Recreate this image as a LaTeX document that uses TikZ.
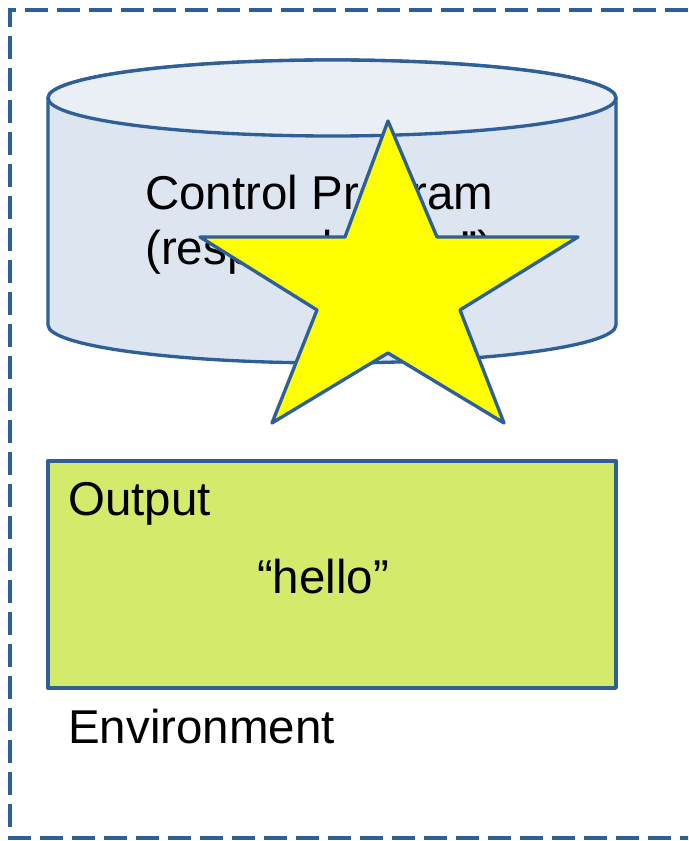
\documentclass[tikz,border=0pt]{standalone}
\usepackage{fontspec}
\setmainfont{Liberation Sans}
\definecolor{edge}{RGB}{46,95,153}
\definecolor{cylbody}{RGB}{221,230,240}
\definecolor{cyltop}{RGB}{234,239,245}
\definecolor{outgreen}{RGB}{212,234,107}
\definecolor{staryellow}{RGB}{255,255,0}
\tikzset{
  px/.style={x=0.75pt,y=-0.75pt},
  outline/.style={draw=edge,line width=2.5pt,line join=round},
  envline/.style={draw=edge,line width=2.4pt,dash pattern=on 17pt off 7pt},
  label/.style={inner sep=0pt,anchor=base west,font=\fontsize{35.6}{41.25}\selectfont,align=left},
}
\begin{document}
\begin{tikzpicture}[px]
\useasboundingbox (0,0) rectangle (688,841);
\begin{scope}
\clip (0,0) rectangle (688,841);
% environment dashed border
\draw[envline] (720,10) -- (10,10) -- (10,838) -- (720,838);
% cylinder
\path[outline,fill=cylbody] (48,98) -- (48,325) arc[start angle=180,end angle=0,x radius=284,y radius=38] -- (616,98) arc[start angle=0,end angle=-180,x radius=284,y radius=38] -- cycle;
\path[outline,fill=cyltop] (332,98) ellipse[x radius=284,y radius=38];
\node[label] (cp) at (145,265) {Control Program\\(respond “hello”)};
% star
\path[outline,fill=staryellow] (388,121) -- (437,237) -- (578,237) -- (460,310) -- (504,423) -- (388,353) -- (272,423) -- (317,310) -- (200,237) -- (345,237) -- cycle;
% output box
\node[outline,fill=outgreen,minimum width=568*0.75pt,minimum height=227*0.75pt,inner sep=0pt] (out) at (332,574.5) {};
\node[label] (outlbl) at (68,515) {Output};
\node[inner sep=0pt,anchor=base,font=\fontsize{35.6}{41}\selectfont] (hello) at (323,593) {“hello”};
\node[label] (env) at (68,743) {Environment};
\end{scope}
\end{tikzpicture}
\end{document}
